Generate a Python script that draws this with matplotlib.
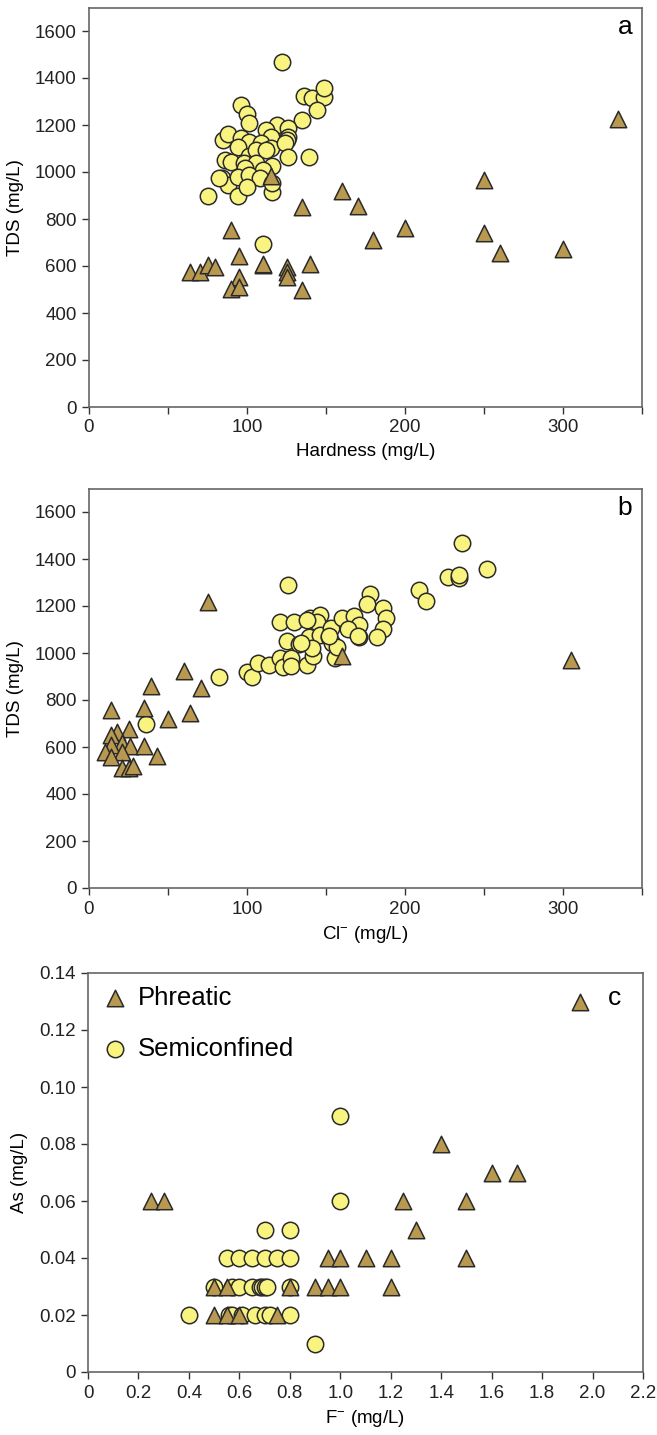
import matplotlib
matplotlib.use('Agg')
from matplotlib import pyplot as plt

plt.rcParams['font.family'] = ['Liberation Sans', 'DejaVu Sans']
plt.rcParams['mathtext.default'] = 'regular'

# panel a: hardness vs TDS
semi_hard = [122, 136, 141, 149, 149, 144, 135, 96, 100, 101, 119, 126, 126, 112, 115,
             85, 88, 96, 101, 109, 115, 125, 124, 94, 101, 106, 112, 126, 139, 86,
             90, 98, 106, 116, 99, 110, 84, 88, 94, 101, 108, 116, 116, 75, 94, 100, 82, 110]
semi_hard_tds = [1470, 1323, 1313, 1320, 1356, 1264, 1221, 1285, 1247, 1207, 1200, 1189, 1150, 1179, 1150,
                 1136, 1162, 1143, 1129, 1122, 1101, 1136, 1122, 1105, 1068, 1094, 1094, 1065, 1065, 1051,
                 1044, 1037, 1037, 1026, 1016, 1009, 973, 945, 977, 987, 973, 916, 952, 898, 898, 937, 973, 692]
phr_hard = [250, 250, 260, 300, 200, 180, 160, 170, 135, 90, 95, 110, 110, 125, 125, 125, 140, 135,
            95, 90, 95, 64, 70, 75, 80, 115, 335]
phr_hard_tds = [965, 740, 654, 671, 762, 711, 920, 855, 849, 752, 643, 603, 610, 596, 575, 553, 610, 498,
                553, 502, 509, 574, 574, 603, 596, 985, 1225]

# panel b: Cl vs TDS
semi_cl = [36, 82, 126, 121, 130, 140, 146, 144, 125, 133, 139, 146, 153, 152, 160, 168, 171, 164, 171,
           178, 176, 186, 188, 186, 182, 209, 213, 227, 234, 234, 252, 236, 100, 103, 107, 114, 121, 123,
           128, 128, 138, 142, 141, 156, 154, 157, 134, 170, 152, 138]
semi_cl_tds = [697, 899, 1289, 1133, 1133, 1150, 1162, 1133, 1052, 1038, 1067, 1077, 1105, 1067, 1148, 1157,
               1119, 1102, 1069, 1251, 1208, 1190, 1150, 1101, 1067, 1268, 1223, 1325, 1318, 1332, 1356, 1470,
               920, 899, 956, 949, 977, 942, 977, 945, 949, 987, 1020, 977, 1041, 1027, 1043, 1072, 1072, 1140]
phr_cl = [60, 39, 71, 14, 35, 50, 64, 25, 18, 14, 21, 14, 26, 35, 10, 21, 14, 43, 21, 25, 28, 75, 305, 160]
phr_cl_tds = [925, 860, 852, 757, 767, 718, 743, 677, 665, 651, 616, 609, 604, 604, 580, 580, 559, 562,
              509, 509, 519, 1218, 970, 987]

# panel c: F vs As
semi_f = [1.0, 1.0, 0.9, 0.7, 0.8,
          0.55, 0.6, 0.65, 0.7, 0.75, 0.8,
          0.5, 0.57, 0.6, 0.65, 0.68, 0.69, 0.7, 0.71, 0.8,
          0.4, 0.56, 0.57, 0.61, 0.66, 0.7, 0.72, 0.8]
semi_as = [0.09, 0.06, 0.01, 0.05, 0.05,
           0.04, 0.04, 0.04, 0.04, 0.04, 0.04,
           0.03, 0.03, 0.03, 0.03, 0.03, 0.03, 0.03, 0.03, 0.03,
           0.02, 0.02, 0.02, 0.02, 0.02, 0.02, 0.02, 0.02]
phr_f = [0.25, 0.3, 1.4, 1.25, 1.5, 1.3, 1.6, 1.7,
         0.95, 1.0, 1.1, 1.2, 1.5,
         0.5, 0.55, 0.8, 0.9, 0.95, 1.0, 1.2,
         0.5, 0.55, 0.6, 0.75, 1.95]
phr_as = [0.06, 0.06, 0.08, 0.06, 0.06, 0.05, 0.07, 0.07,
          0.04, 0.04, 0.04, 0.04, 0.04,
          0.03, 0.03, 0.03, 0.03, 0.03, 0.03, 0.03,
          0.02, 0.02, 0.02, 0.02, 0.13]

tri_col = '#b8994f'
circ_col = '#f9f47f'
edge = '#2a2a2a'
spine_col = '#666666'
fs = 13.5

fig = plt.figure(figsize=(6.57, 14.35), dpi=100)
W, H = 657.0, 1435.0


def make_ax(left, top, right, bottom):
    return fig.add_axes([left / W, 1 - bottom / H, (right - left) / W, (bottom - top) / H])


def style(ax):
    for s in ax.spines.values():
        s.set_color(spine_col)
        s.set_linewidth(1.2)
    ax.tick_params(direction='out', length=5, width=1, color='#333333',
                   labelsize=fs, labelcolor='#222222', pad=4,
                   top=False, right=False)


ax1 = make_ax(89, 7.5, 642, 407)
ax2 = make_ax(89, 488.5, 642, 888)
ax3 = make_ax(88, 973, 643, 1372)

ms = 140
for ax, sx, sy, px, py in [(ax1, semi_hard, semi_hard_tds, phr_hard, phr_hard_tds),
                           (ax2, semi_cl, semi_cl_tds, phr_cl, phr_cl_tds)]:
    ax.scatter(sx, sy, s=ms, marker='o', c=circ_col, edgecolors=edge, linewidths=1.1, zorder=3)
    ax.scatter(px, py, s=ms, marker='^', c=tri_col, edgecolors=edge, linewidths=1.1, zorder=4)
    ax.set_xlim(0, 350)
    ax.set_ylim(0, 1700)
    ax.set_xticks(range(0, 351, 50))
    ax.set_xticklabels(['0', '', '100', '', '200', '', '300', ''])
    ax.set_yticks(range(0, 1601, 200))
    ax.set_ylabel('TDS (mg/L)', fontsize=fs, labelpad=8)
    style(ax)

ax1.set_xlabel('Hardness (mg/L)', fontsize=fs, labelpad=5)
ax2.set_xlabel('Cl$^{-}$ (mg/L)', fontsize=fs, labelpad=5)
ax1.text(0.969, 0.95, 'a', transform=ax1.transAxes, fontsize=19, ha='center', va='center')
ax2.text(0.969, 0.95, 'b', transform=ax2.transAxes, fontsize=19, ha='center', va='center')

ax3.scatter(semi_f, semi_as, s=ms, marker='o', c=circ_col, edgecolors=edge, linewidths=1.1,
            zorder=3, label='Semiconfined')
ax3.scatter(phr_f, phr_as, s=ms, marker='^', c=tri_col, edgecolors=edge, linewidths=1.1,
            zorder=4, label='Phreatic')
ax3.set_xlim(0, 2.2)
ax3.set_ylim(0, 0.14)
ax3.set_xticks([i * 0.2 for i in range(12)])
ax3.set_xticklabels(['0', '0.2', '0.4', '0.6', '0.8', '1.0', '1.2', '1.4', '1.6', '1.8', '2.0', '2.2'])
ax3.set_yticks([i * 0.02 for i in range(8)])
ax3.set_yticklabels(['0', '0.02', '0.04', '0.06', '0.08', '0.10', '0.12', '0.14'])
ax3.set_xlabel('F$^{-}$ (mg/L)', fontsize=fs, labelpad=5)
ax3.set_ylabel('As (mg/L)', fontsize=fs, labelpad=8)
ax3.text(0.948, 0.937, 'c', transform=ax3.transAxes, fontsize=19, ha='center', va='center')
style(ax3)

h, l = ax3.get_legend_handles_labels()
ax3.legend(h[::-1], l[::-1], loc='upper left', frameon=False, fontsize=18.5,
           handletextpad=0.35, labelspacing=1.05, borderaxespad=0.15, handlelength=1.1,
           borderpad=0.35)

fig.savefig('out.png', dpi=100)
